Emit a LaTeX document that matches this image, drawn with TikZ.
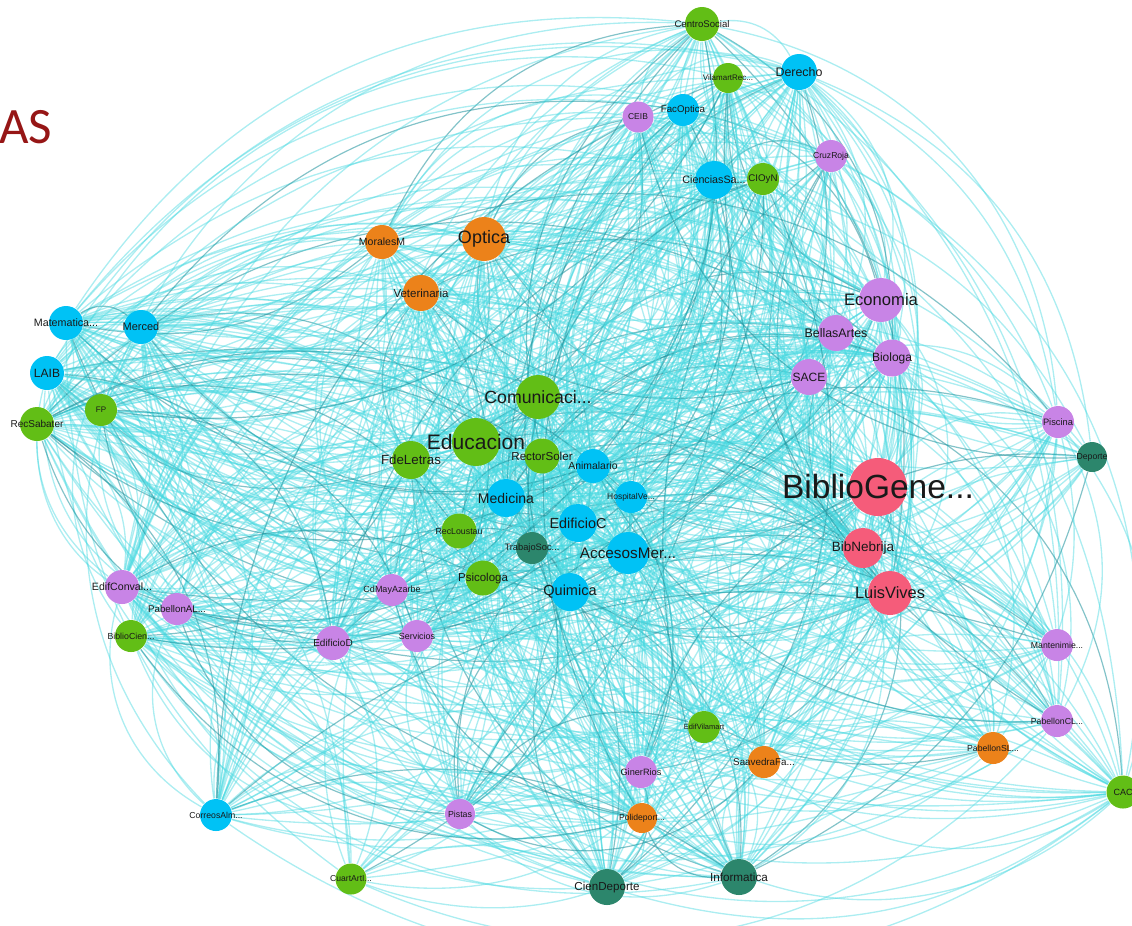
\documentclass[tikz,border=0pt]{standalone}
\usepackage{fontspec}
\setmainfont{Liberation Sans}
\newfontfamily\titlefont{Carlito}

\pgfdeclarelayer{edges}
\pgfdeclarelayer{labels}
\pgfsetlayers{edges,main,labels}

\definecolor{nblue}{RGB}{0,194,245}
\definecolor{ngreen}{RGB}{98,190,22}
\definecolor{npurple}{RGB}{200,132,230}
\definecolor{norange}{RGB}{236,130,26}
\definecolor{npink}{RGB}{245,92,122}
\definecolor{nteal}{RGB}{44,134,108}
\definecolor{elight}{RGB}{72,216,224}
\definecolor{edark}{RGB}{30,146,156}
\definecolor{titlered}{RGB}{150,22,22}

% one drawing unit
\def\un{0.3}

\tikzset{
  vert/.style={circle, inner sep=0pt, draw=none},
  lbl/.style={inner sep=0pt, text=black!90},
  elink/.style={draw=elight, line width=0.4pt, draw opacity=0.45},
  dlink/.style={draw=edark, line width=0.36pt, draw opacity=0.55},
}

% vertex: name, x, y, diameter, colour, font size, label
\newcommand\vtx[7]{%
  \pgfmathsetmacro\vtxfs{#6*\un}%
  \node[vert, minimum size=\un*#4pt, fill=#5] (#1) at (#2,#3) {};
  \begin{pgfonlayer}{labels}
    \node[lbl, font=\fontsize{\vtxfs}{\vtxfs}\selectfont] (#1-t) at (#2,#3) {#7};
  \end{pgfonlayer}}

\begin{document}
\begin{tikzpicture}[x=\un pt,y=-\un pt]
\useasboundingbox (0,0) rectangle (1132,925);

% campus buildings
\vtx{cso}{702}{24}{34}{ngreen}{9.6}{CentroSocial}
\vtx{vrc}{728}{78}{30}{ngreen}{8}{VilamartRec...}
\vtx{der}{799}{72}{36}{nblue}{12.4}{Derecho}
\vtx{ceib}{638}{117}{31}{npurple}{8.5}{CEIB}
\vtx{fop}{683}{110}{32}{nblue}{9.7}{FacOptica}
\vtx{cru}{831}{156}{32}{npurple}{8.6}{CruzRoja}
\vtx{csa}{714}{180}{38}{nblue}{10.7}{CienciasSa...}
\vtx{cio}{763}{179}{32}{ngreen}{9.7}{CIOyN}
\vtx{mor}{382}{242}{34}{norange}{10.5}{MoralesM}
\vtx{opt}{484}{239}{44}{norange}{18}{Optica}
\vtx{vet}{421}{293}{36}{norange}{11.5}{Veterinaria}
\vtx{mat}{66}{323}{34}{nblue}{10.7}{Matematica...}
\vtx{mer}{141}{327}{34}{nblue}{11}{Merced}
\vtx{laib}{47}{373}{34}{nblue}{12}{LAIB}
\vtx{fp}{101}{410}{32}{ngreen}{8}{FP}
\vtx{rsab}{37}{424}{34}{ngreen}{10}{RecSabater}
\vtx{eco}{881}{300}{44}{npurple}{16.6}{Economia}
\vtx{bel}{836}{333}{36}{npurple}{12.4}{BellasArtes}
\vtx{bio}{892}{358}{37}{npurple}{12}{Biologa}
\vtx{sace}{809}{377}{36}{npurple}{12}{SACE}
\vtx{com}{538}{397}{44}{ngreen}{17.7}{Comunicaci...}
\vtx{edu}{476}{442}{48}{ngreen}{21}{Educacion}
\vtx{fdl}{411}{460}{38}{ngreen}{13.3}{FdeLetras}
\vtx{rso}{542}{456}{35}{ngreen}{11.6}{RectorSoler}
\vtx{ani}{593}{466}{34}{nblue}{10.4}{Animalario}
\vtx{med}{506}{498}{38}{nblue}{14}{Medicina}
\vtx{hos}{631}{497}{32}{nblue}{8.5}{HospitalVe...}
\vtx{edc}{578}{523}{38}{nblue}{14.4}{EdificioC}
\vtx{rlo}{459}{531}{35}{ngreen}{8.8}{RecLoustau}
\vtx{tso}{532}{548}{32}{nteal}{9.3}{TrabajoSoc...}
\vtx{acc}{628}{553}{42}{nblue}{15.3}{AccesosMer...}
\vtx{psi}{483}{578}{35}{ngreen}{11.5}{Psicologa}
\vtx{qui}{570}{592}{38}{nblue}{14.5}{Quimica}
\vtx{cdm}{392}{590}{32}{npurple}{9}{CdMayAzarbe}
\vtx{bg}{878}{487}{58}{npink}{33.5}{BiblioGene...}
\vtx{bn}{863}{548}{40}{npink}{13.5}{BibNebrija}
\vtx{lv}{890}{593}{44}{npink}{16.4}{LuisVives}
\vtx{pis}{1058}{422}{32}{npurple}{9.3}{Piscina}
\vtx{dep}{1092}{457}{30}{nteal}{8.7}{Deporte}
\vtx{man}{1057}{645}{32}{npurple}{8.7}{Mantenimie...}
\vtx{pcl}{1057}{721}{32}{npurple}{8.7}{PabellonCL...}
\vtx{psl}{993}{748}{32}{norange}{8.7}{PabellonSL...}
\vtx{cac}{1123}{792}{33}{ngreen}{9}{CAC}
\vtx{edcv}{122}{587}{34}{npurple}{10.6}{EdifConval...}
\vtx{pal}{177}{609}{32}{npurple}{9.7}{PabellonAL...}
\vtx{bci}{131}{636}{32}{ngreen}{8.8}{BiblioCien...}
\vtx{edd}{333}{643}{34}{npurple}{10}{EdificioD}
\vtx{ser}{417}{636}{32}{npurple}{8.9}{Servicios}
\vtx{evi}{704}{727}{32}{ngreen}{7.5}{EdifVilamart}
\vtx{gin}{641}{772}{32}{npurple}{9.2}{GinerRios}
\vtx{saa}{764}{762}{32}{norange}{9.8}{SaavedraFa...}
\vtx{pol}{642}{818}{30}{norange}{8.6}{Polideport...}
\vtx{cde}{607}{887}{36}{nteal}{11.6}{CienDeporte}
\vtx{inf}{739}{877}{36}{nteal}{11.7}{Informatica}
\vtx{cor}{216}{815}{32}{nblue}{8.7}{CorreosAlm...}
\vtx{cua}{351}{879}{31}{ngreen}{8.6}{CuartArtI...}
\vtx{pist}{460}{814}{30}{npurple}{8.8}{Pistas}

\pgfmathsetmacro\titlefs{51*\un}
\node[anchor=base east, inner sep=0pt, text=titlered,
      font=\titlefont\fontsize{\titlefs}{\titlefs}\selectfont] (title) at (53,143) {AS};

% links between buildings, weighted by how busy each one is
\def\vlist{bg/1.0, edu/0.95, opt/0.9, eco/0.9, com/0.9, lv/0.9, acc/0.88,
  bn/0.85, med/0.84, qui/0.84, edc/0.84, fdl/0.82, csa/0.82, bio/0.82,
  der/0.82, bel/0.78, sace/0.78, vet/0.78, rso/0.78, cde/0.8, inf/0.8,
  mor/0.72, mat/0.74, mer/0.74, laib/0.72, rsab/0.72, psi/0.74, rlo/0.74,
  ani/0.74, edcv/0.72, edd/0.72, cso/0.68, fop/0.64, cru/0.6, cio/0.64,
  fp/0.6, hos/0.66, tso/0.66, cdm/0.64, pis/0.54, man/0.48, pcl/0.48,
  psl/0.5, cac/0.6, pal/0.62, bci/0.6, ser/0.64, evi/0.6, gin/0.6,
  saa/0.6, cor/0.64, cua/0.45, vrc/0.56, ceib/0.56, dep/0.36, pol/0.56,
  pist/0.45}
\pgfmathsetseed{4711}
\begin{pgfonlayer}{edges}
\foreach \a/\wa [count=\i] in \vlist {
  \foreach \b/\wb [count=\j] in \vlist {
    \ifnum\j>\i
      \pgfmathtruncatemacro\ok{rnd<1.6*\wa*\wb}
      \ifnum\ok=1
        \pgfmathsetmacro\ang{24+16*rnd}
        \pgfmathtruncatemacro\flip{rnd<0.5}
        \pgfmathtruncatemacro\dk{rnd<0.12}
        \ifnum\flip=1
          \ifnum\dk=1 \draw[dlink] (\a) to[bend left=\ang] (\b);
          \else \draw[elink] (\a) to[bend left=\ang] (\b); \fi
        \else
          \ifnum\dk=1 \draw[dlink] (\b) to[bend left=\ang] (\a);
          \else \draw[elink] (\b) to[bend left=\ang] (\a); \fi
        \fi
      \fi
    \fi
  }
}
\end{pgfonlayer}
\end{tikzpicture}
\end{document}
